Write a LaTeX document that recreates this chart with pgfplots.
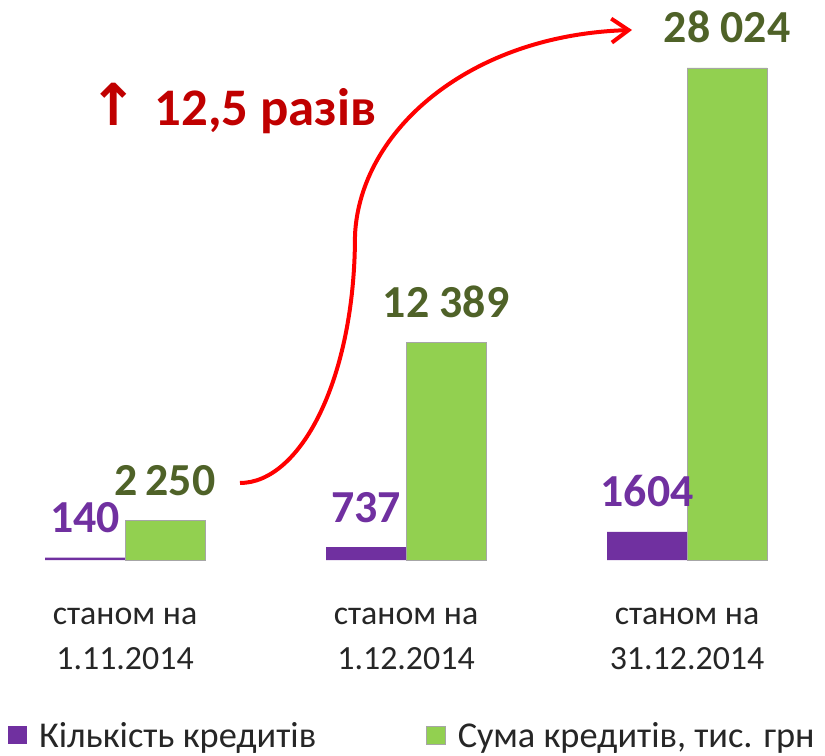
\documentclass[border=0pt]{standalone}
\usepackage{fontspec}
\setmainfont{Carlito}
\newfontfamily\djv{DejaVu Sans}
\usepackage{pgfplots}
\pgfplotsset{compat=1.18}
\usetikzlibrary{arrows.meta}
\definecolor{cpurple}{HTML}{7030A0}
\definecolor{cgreen}{HTML}{92D050}
\definecolor{clabgreen}{HTML}{4F6228}
\definecolor{cred}{HTML}{C00000}
\definecolor{ctext}{HTML}{262626}
\begin{document}
\begin{tikzpicture}
\useasboundingbox (0,0) rectangle (825bp,756bp);
\begin{axis}[
  at={(0,196bp)}, anchor=south west,
  scale only axis, width=825bp, height=560bp,
  xmin=-0.445, xmax=2.491, ymin=0, ymax=31891,
  axis line style={draw=none}, tick style={draw=none},
  ytick=\empty, xtick={0,1,2},
  xticklabels={{станом на\\1.11.2014},{станом на\\1.12.2014},{станом на\\31.12.2014}},
  xticklabel style={align=center, text=ctext, font=\fontsize{34}{45}\selectfont, yshift=-40bp},
  ybar, bar width=80bp, clip=false,
  legend columns=2,
  legend style={draw=none, at={(0.006,-0.313)}, anchor=west, font=\fontsize{36.5}{40}\selectfont, text=ctext,
    /tikz/every odd column/.append style={column sep=10bp},
    /tikz/every even column/.append style={column sep=108bp}},
  legend image code/.code={\fill[#1] (0bp,-9bp) rectangle (19bp,9bp);},
  nodes near coords, point meta=explicit symbolic,
]
\addplot[ybar, bar shift=-40bp, fill=cpurple, draw=none,
  nodes near coords style={font=\fontsize{46}{50}\selectfont\bfseries, text=cpurple, anchor=base, yshift=25bp}]
  coordinates {(0,140)[140] (1,737)[737] (2,1604)[1604]};
\addplot[ybar, bar shift=40bp, fill=cgreen, draw=black!35, line width=0.6bp,
  nodes near coords style={font=\fontsize{46}{50}\selectfont\bfseries, text=clabgreen, anchor=base, yshift=25bp}]
  coordinates {(0,2250)[2\,250] (1,12389)[12 389] (2,28024)[28 024]};
\legend{Кількість кредитів, {Сума кредитів, тис. грн}}
\end{axis}
\draw[red, line width=4bp, -{Straight Barb[length=17bp,width=24bp]}]
  (240bp,273bp) .. controls (300bp,273bp) and (355bp,376bp) .. (355bp,521bp)
  .. controls (360bp,626bp) and (470bp,721bp) .. (632bp,726bp);
\node[anchor=west, text=cred, font=\fontsize{53}{58}\selectfont\bfseries, inner sep=0pt] at (89bp,648bp) {{\djv\fontsize{58}{58}\selectfont ↑}\hspace{17bp}12,5 разів};
\end{tikzpicture}
\end{document}
